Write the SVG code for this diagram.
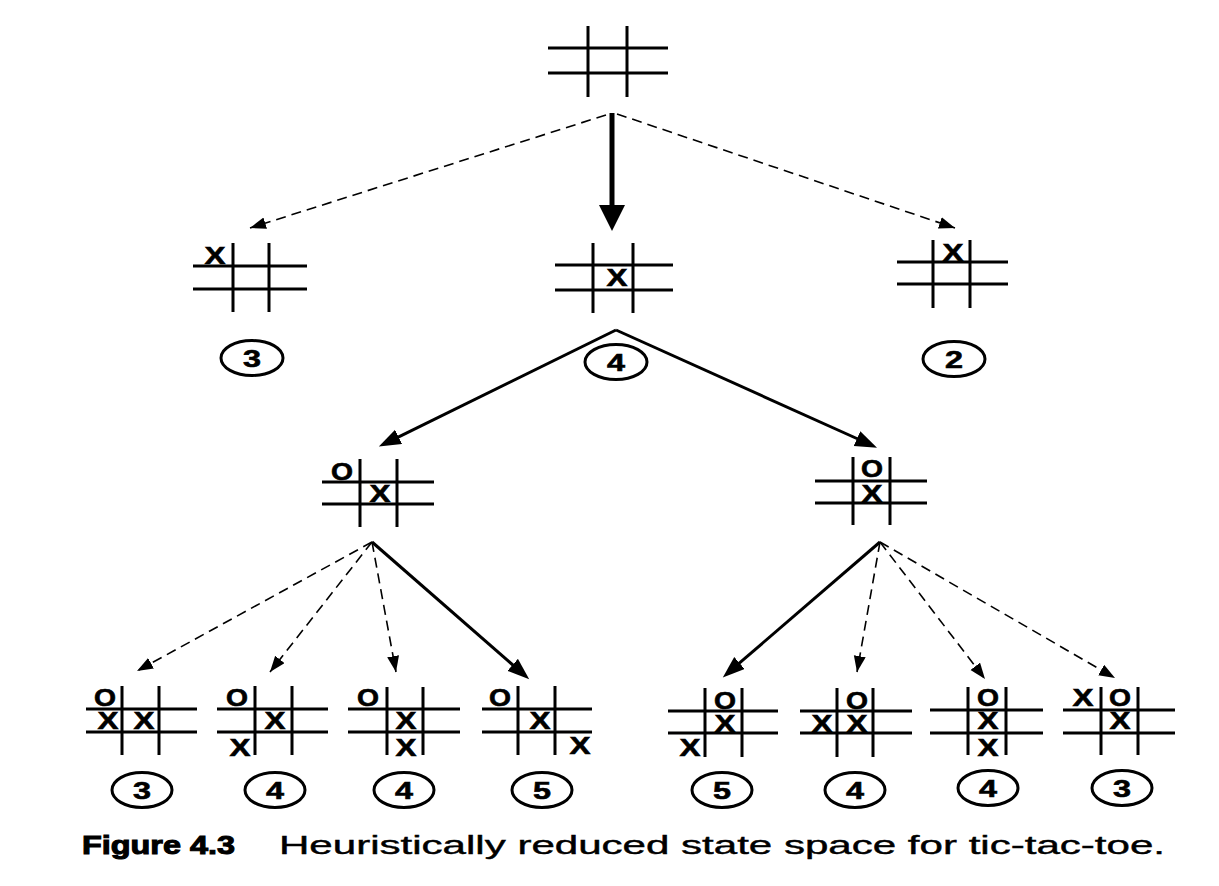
<svg xmlns="http://www.w3.org/2000/svg" width="1219" height="886" viewBox="0 0 1219 886">
<style>
.g{stroke:#000;stroke-width:3;fill:none}
.m{font-family:"Liberation Sans",Arial,sans-serif;font-weight:bold;font-size:24px;text-anchor:middle;fill:#000;stroke:#000;stroke-width:0.6}
.e{stroke:#000;stroke-width:3;fill:none}
.d{stroke:#000;stroke-width:1.6;fill:none;stroke-dasharray:10 6}
.s{stroke:#000;stroke-width:3;fill:none}
.cap{font-family:"Liberation Sans",Arial,sans-serif;font-size:25px;fill:#000}
</style>
<defs>
<marker id="dh" markerUnits="userSpaceOnUse" markerWidth="17" markerHeight="13" refX="16" refY="6" orient="auto"><path d="M0,0 L16,6 L0,12 z" fill="#000"/></marker>
<marker id="sh" markerUnits="userSpaceOnUse" markerWidth="24" markerHeight="18" refX="1" refY="8" orient="auto"><path d="M0,0 L22,8 L0,16 z" fill="#000"/></marker>
<marker id="bh" markerUnits="userSpaceOnUse" markerWidth="28" markerHeight="28" refX="1" refY="13" orient="auto"><path d="M0,0 L26,13 L0,26 z" fill="#000"/></marker>
</defs>
<rect width="1219" height="886" fill="#fff"/>
<g id="connectors">
<line class="d" x1="606" y1="115" x2="250" y2="228" marker-end="url(#dh)"/>
<line class="d" x1="617" y1="114" x2="955" y2="228" marker-end="url(#dh)"/>
<line x1="612" y1="113" x2="612" y2="206" stroke="#000" stroke-width="5" marker-end="url(#bh)"/>
<line class="s" x1="616" y1="330" x2="397.7" y2="437.3" marker-end="url(#sh)"/>
<line class="s" x1="616" y1="330" x2="857.9" y2="439" marker-end="url(#sh)"/>
<line class="d" x1="372" y1="542" x2="137" y2="671" marker-end="url(#dh)"/>
<line class="d" x1="372" y1="542" x2="270" y2="672" marker-end="url(#dh)"/>
<line class="d" x1="372" y1="542" x2="396" y2="672" marker-end="url(#dh)"/>
<line class="s" x1="372" y1="542" x2="513.4" y2="665.5" marker-end="url(#sh)"/>
<line class="s" x1="880" y1="542" x2="738.7" y2="663.7" marker-end="url(#sh)"/>
<line class="d" x1="880" y1="542" x2="857" y2="672" marker-end="url(#dh)"/>
<line class="d" x1="880" y1="542" x2="985" y2="679" marker-end="url(#dh)"/>
<line class="d" x1="880" y1="542" x2="1115" y2="678" marker-end="url(#dh)"/>
</g>
<g id="root">
<path class="g" d="M588,26V97M627,26V97M548,48H668M548,73H668"/>
</g>
<g id="n1a">
<path class="g" d="M233,243V312M269,243V312M193,266H307M193,289H307"/>
<text class="m" x="215" y="264" textLength="21" lengthAdjust="spacingAndGlyphs">X</text>
<ellipse class="e" cx="252" cy="358" rx="31" ry="17.5"/>
<text class="m" x="252" y="367" textLength="18" lengthAdjust="spacingAndGlyphs">3</text>
</g>
<g id="n1b">
<path class="g" d="M593,243V313M633,243V313M555,265H673M555,290H673"/>
<text class="m" x="617" y="286" textLength="21" lengthAdjust="spacingAndGlyphs">X</text>
<ellipse class="e" cx="616" cy="362" rx="31" ry="17.5"/>
<text class="m" x="616" y="371" textLength="18" lengthAdjust="spacingAndGlyphs">4</text>
</g>
<g id="n1c">
<path class="g" d="M933,240V308M970,240V308M897,262H1008M897,284H1008"/>
<text class="m" x="953" y="261" textLength="21" lengthAdjust="spacingAndGlyphs">X</text>
<ellipse class="e" cx="954" cy="359" rx="31" ry="17.5"/>
<text class="m" x="954" y="368" textLength="18" lengthAdjust="spacingAndGlyphs">2</text>
</g>
<g id="n2a">
<path class="g" d="M360,459V527M397,459V527M322,482H434M322,504H434"/>
<text class="m" x="342" y="480" textLength="22" lengthAdjust="spacingAndGlyphs">O</text>
<text class="m" x="380" y="502" textLength="21" lengthAdjust="spacingAndGlyphs">X</text>
</g>
<g id="n2b">
<path class="g" d="M853,457V525M890,457V525M815,481H927M815,503H927"/>
<text class="m" x="872" y="477" textLength="22" lengthAdjust="spacingAndGlyphs">O</text>
<text class="m" x="872" y="502" textLength="21" lengthAdjust="spacingAndGlyphs">X</text>
</g>
<g id="b1">
<path class="g" d="M122,686V755M159,686V755M86,709H197M86,732H197"/>
<text class="m" x="105" y="706" textLength="22" lengthAdjust="spacingAndGlyphs">O</text>
<text class="m" x="108" y="729" textLength="21" lengthAdjust="spacingAndGlyphs">X</text>
<text class="m" x="144" y="729" textLength="21" lengthAdjust="spacingAndGlyphs">X</text>
<ellipse class="e" cx="142" cy="790" rx="30" ry="17.5"/>
<text class="m" x="142" y="799" textLength="18" lengthAdjust="spacingAndGlyphs">3</text>
</g>
<g id="b2">
<path class="g" d="M255,686V755M292,686V755M217,709H328M217,732H328"/>
<text class="m" x="237" y="706" textLength="22" lengthAdjust="spacingAndGlyphs">O</text>
<text class="m" x="275" y="729" textLength="21" lengthAdjust="spacingAndGlyphs">X</text>
<text class="m" x="240" y="756" textLength="21" lengthAdjust="spacingAndGlyphs">X</text>
<ellipse class="e" cx="275" cy="790" rx="30" ry="17.5"/>
<text class="m" x="275" y="799" textLength="18" lengthAdjust="spacingAndGlyphs">4</text>
</g>
<g id="b3">
<path class="g" d="M387,687V755M423,687V755M348,709H460M348,732H460"/>
<text class="m" x="368" y="706" textLength="22" lengthAdjust="spacingAndGlyphs">O</text>
<text class="m" x="406" y="729" textLength="21" lengthAdjust="spacingAndGlyphs">X</text>
<text class="m" x="406" y="756" textLength="21" lengthAdjust="spacingAndGlyphs">X</text>
<ellipse class="e" cx="404" cy="790" rx="30" ry="17.5"/>
<text class="m" x="404" y="799" textLength="18" lengthAdjust="spacingAndGlyphs">4</text>
</g>
<g id="b4">
<path class="g" d="M518,686V755M555,686V755M482,709H592M482,732H592"/>
<text class="m" x="500" y="706" textLength="22" lengthAdjust="spacingAndGlyphs">O</text>
<text class="m" x="540" y="729" textLength="21" lengthAdjust="spacingAndGlyphs">X</text>
<text class="m" x="580" y="754" textLength="21" lengthAdjust="spacingAndGlyphs">X</text>
<ellipse class="e" cx="542" cy="790" rx="30" ry="17.5"/>
<text class="m" x="542" y="799" textLength="18" lengthAdjust="spacingAndGlyphs">5</text>
</g>
<g id="b5">
<path class="g" d="M705,688V757M742,688V757M668,711H778M668,733H778"/>
<text class="m" x="725" y="709" textLength="22" lengthAdjust="spacingAndGlyphs">O</text>
<text class="m" x="725" y="732" textLength="21" lengthAdjust="spacingAndGlyphs">X</text>
<text class="m" x="690" y="756" textLength="21" lengthAdjust="spacingAndGlyphs">X</text>
<ellipse class="e" cx="722" cy="790" rx="30" ry="17.5"/>
<text class="m" x="722" y="799" textLength="18" lengthAdjust="spacingAndGlyphs">5</text>
</g>
<g id="b6">
<path class="g" d="M837,688V757M873,688V757M800,711H912M800,733H912"/>
<text class="m" x="857" y="709" textLength="22" lengthAdjust="spacingAndGlyphs">O</text>
<text class="m" x="822" y="732" textLength="21" lengthAdjust="spacingAndGlyphs">X</text>
<text class="m" x="857" y="732" textLength="21" lengthAdjust="spacingAndGlyphs">X</text>
<ellipse class="e" cx="855" cy="790" rx="30" ry="17.5"/>
<text class="m" x="855" y="799" textLength="18" lengthAdjust="spacingAndGlyphs">4</text>
</g>
<g id="b7">
<path class="g" d="M968,687V755M1006,687V755M930,710H1043M930,733H1043"/>
<text class="m" x="988" y="706" textLength="22" lengthAdjust="spacingAndGlyphs">O</text>
<text class="m" x="988" y="729" textLength="21" lengthAdjust="spacingAndGlyphs">X</text>
<text class="m" x="988" y="756" textLength="21" lengthAdjust="spacingAndGlyphs">X</text>
<ellipse class="e" cx="988" cy="788" rx="30" ry="17.5"/>
<text class="m" x="988" y="797" textLength="18" lengthAdjust="spacingAndGlyphs">4</text>
</g>
<g id="b8">
<path class="g" d="M1101,687V755M1138,687V755M1063,710H1175M1063,733H1175"/>
<text class="m" x="1083" y="706" textLength="21" lengthAdjust="spacingAndGlyphs">X</text>
<text class="m" x="1120" y="706" textLength="22" lengthAdjust="spacingAndGlyphs">O</text>
<text class="m" x="1120" y="729" textLength="21" lengthAdjust="spacingAndGlyphs">X</text>
<ellipse class="e" cx="1122" cy="788" rx="30" ry="17.5"/>
<text class="m" x="1122" y="797" textLength="18" lengthAdjust="spacingAndGlyphs">3</text>
</g>
<g id="caption">
<text class="cap" x="82" y="854" font-weight="900" textLength="153" lengthAdjust="spacingAndGlyphs" stroke="#000" stroke-width="1">Figure 4.3</text>
<text class="cap" x="279" y="854" textLength="886" lengthAdjust="spacingAndGlyphs" stroke="#000" stroke-width="0.4">Heuristically reduced state space for tic-tac-toe.</text>
</g>
</svg>
